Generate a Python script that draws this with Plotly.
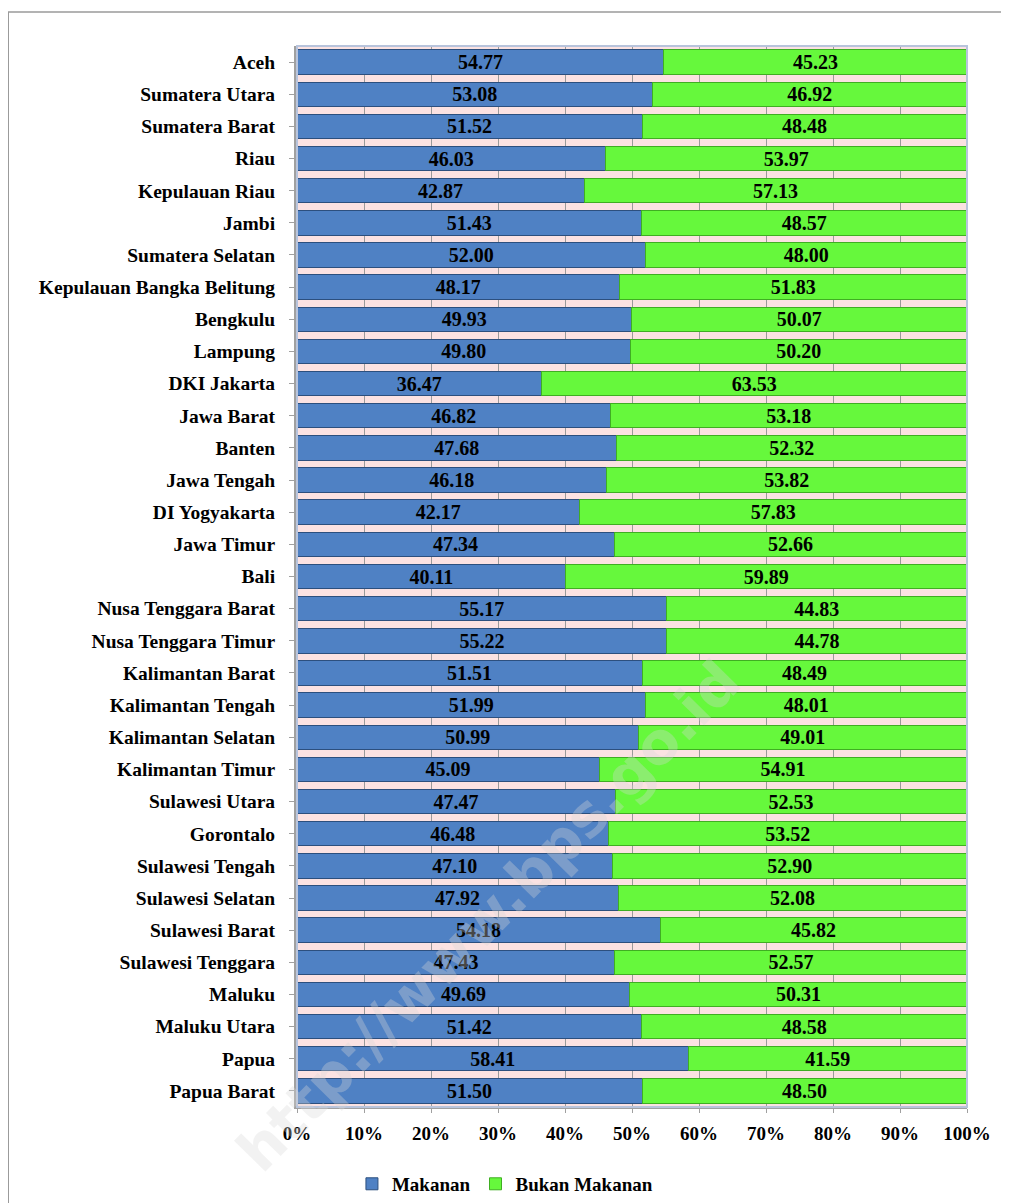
import plotly.graph_objects as go

provinces = ["Aceh", "Sumatera Utara", "Sumatera Barat", "Riau", "Kepulauan Riau", "Jambi",
             "Sumatera Selatan", "Kepulauan Bangka Belitung", "Bengkulu", "Lampung", "DKI Jakarta",
             "Jawa Barat", "Banten", "Jawa Tengah", "DI Yogyakarta", "Jawa Timur", "Bali",
             "Nusa Tenggara Barat", "Nusa Tenggara Timur", "Kalimantan Barat", "Kalimantan Tengah",
             "Kalimantan Selatan", "Kalimantan Timur", "Sulawesi Utara", "Gorontalo",
             "Sulawesi Tengah", "Sulawesi Selatan", "Sulawesi Barat", "Sulawesi Tenggara",
             "Maluku", "Maluku Utara", "Papua", "Papua Barat"]
makanan = [54.77, 53.08, 51.52, 46.03, 42.87, 51.43, 52.00, 48.17, 49.93, 49.80, 36.47,
           46.82, 47.68, 46.18, 42.17, 47.34, 40.11, 55.17, 55.22, 51.51, 51.99, 50.99,
           45.09, 47.47, 46.48, 47.10, 47.92, 54.18, 47.43, 49.69, 51.42, 58.41, 51.50]
bukan_makanan = [45.23, 46.92, 48.48, 53.97, 57.13, 48.57, 48.00, 51.83, 50.07, 50.20, 63.53,
                 53.18, 52.32, 53.82, 57.83, 52.66, 59.89, 44.83, 44.78, 48.49, 48.01, 49.01,
                 54.91, 52.53, 53.52, 52.90, 52.08, 45.82, 52.57, 50.31, 48.58, 41.59, 48.50]
x_ticks = [0, 10, 20, 30, 40, 50, 60, 70, 80, 90, 100]
x_tick_labels = ["0%", "10%", "20%", "30%", "40%", "50%", "60%", "70%", "80%", "90%", "100%"]

FONT = "Liberation Serif"
valfont = dict(family=FONT, size=20, color="black", weight="bold")

fig = go.Figure()
fig.add_trace(go.Bar(
    y=provinces, x=makanan, name="Makanan", orientation="h",
    marker=dict(color="#4f81c4", line=dict(color="#2c4f7e", width=1)),
    text=makanan, texttemplate="%{x:.2f}", textposition="inside",
    insidetextanchor="middle", textfont=valfont, constraintext="none",
))
fig.add_trace(go.Bar(
    y=provinces, x=bukan_makanan, name="Bukan Makanan", orientation="h",
    marker=dict(color="#66f83c", line=dict(color="#3fae22", width=1)),
    text=bukan_makanan, texttemplate="%{x:.2f}", textposition="inside",
    insidetextanchor="middle", textfont=valfont, constraintext="none",
))

fig.update_layout(
    width=1009, height=1203,
    barmode="stack", bargap=0.24,
    margin=dict(l=289, r=50, t=38, b=104),
    paper_bgcolor="white", plot_bgcolor="#fbe2e2",
    font=dict(family=FONT, size=19, color="black"),
    legend=dict(orientation="h", traceorder="normal", x=0.082, xanchor="left",
                yref="container", y=0.0225, yanchor="middle",
                font=dict(family=FONT, size=19, color="black", weight="bold")),
    showlegend=True,
)
fig.update_xaxes(
    range=[0, 100], tickvals=x_ticks, ticktext=x_tick_labels,
    showgrid=True, gridcolor="#9a9a9a", gridwidth=1,
    showline=True, linecolor="#a0a0a0", linewidth=2,
    ticks="outside", ticklen=4, tickcolor="#a0a0a0",
    ticklabelstandoff=4, automargin=False,
    tickfont=dict(family=FONT, size=19, color="black", weight="bold"),
    zeroline=False,
)
fig.update_yaxes(
    categoryorder="array", categoryarray=provinces, autorange="reversed",
    showline=True, linecolor="#a0a0a0", linewidth=3,
    ticks="outside", ticklen=5, tickcolor="#a0a0a0",
    ticklabelstandoff=10, automargin=False,
    tickfont=dict(family=FONT, size=19.5, color="black", weight="bold"),
    showgrid=False,
)
# top / right plot frame
fig.add_shape(type="rect", xref="paper", yref="paper", x0=0, x1=1, y0=0, y1=1,
              line=dict(color="#b8c4dc", width=2), layer="above")
# outer chart border
fig.add_shape(type="rect", xref="paper", yref="paper", x0=-0.431, x1=1.075, y0=-0.1, y1=1.032,
              line=dict(color="#9a9a9a", width=1.5), layer="below")
# watermark
fig.add_annotation(text="http://www.bps.go.id", xref="paper", yref="paper",
                   x=0.286, y=0.18, xanchor="center", yanchor="middle",
                   showarrow=False, textangle=-45.5,
                   font=dict(family="DejaVu Sans", size=58, color="rgba(215,215,215,0.33)", weight="bold"))

fig.write_html("out.html")
